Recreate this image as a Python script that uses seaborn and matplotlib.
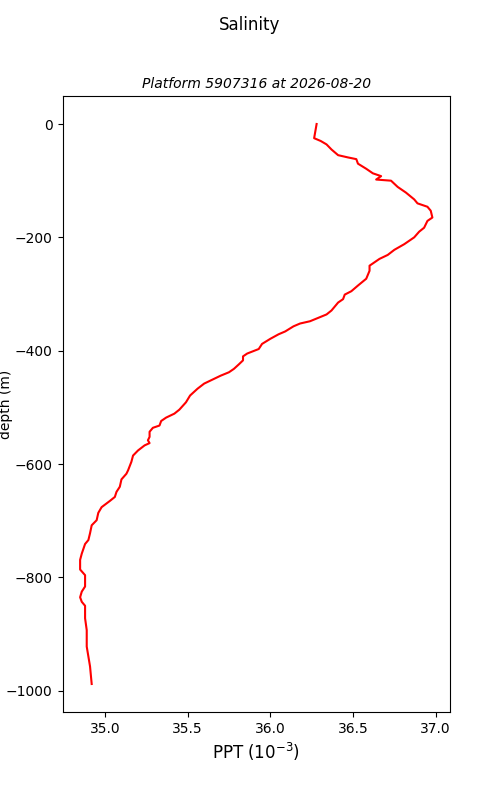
import matplotlib
matplotlib.use('Agg')
import matplotlib.pyplot as plt
import pandas as pd
import seaborn as sns

# salinity profile (depth in m, salinity in PPT)
depth = [0, -25, -30, -36, -45, -55, -59, -62, -70, -79,
         -87, -92, -98, -100, -111, -121, -133, -140, -146, -153,
         -165, -171, -183, -190, -200, -212, -222, -231, -238, -250,
         -259, -273, -285, -295, -301, -309, -315, -322, -329, -336,
         -342, -348, -352, -357, -366, -371, -379, -388, -397, -405,
         -410, -417, -424, -432, -438, -444, -451, -458, -467, -479,
         -491, -504, -511, -518, -524, -532, -536, -543, -552, -558,
         -563, -567, -576, -585, -596, -611, -617, -627, -640, -649,
         -658, -665, -676, -686, -699, -708, -722, -734, -741, -758,
         -769, -786, -796, -816, -825, -835, -843, -850, -872, -893,
         -922, -957, -988]
salinity = [36.28, 36.265, 36.305, 36.34, 36.37, 36.41, 36.47, 36.52, 36.53, 36.58,
            36.62, 36.67, 36.64, 36.73, 36.77, 36.82, 36.87, 36.89, 36.95, 36.97,
            36.98, 36.95, 36.93, 36.90, 36.87, 36.81, 36.75, 36.71, 36.66, 36.60,
            36.60, 36.58, 36.53, 36.49, 36.45, 36.44, 36.41, 36.39, 36.37, 36.34,
            36.29, 36.24, 36.18, 36.14, 36.09, 36.05, 36.00, 35.95, 35.93, 35.86,
            35.835, 35.835, 35.81, 35.78, 35.75, 35.70, 35.65, 35.60, 35.56, 35.515,
            35.49, 35.45, 35.42, 35.37, 35.34, 35.33, 35.29, 35.27, 35.27, 35.26,
            35.27, 35.24, 35.20, 35.17, 35.16, 35.14, 35.13, 35.10, 35.09, 35.07,
            35.06, 35.03, 34.98, 34.96, 34.95, 34.92, 34.91, 34.90, 34.88, 34.86,
            34.85, 34.85, 34.88, 34.88, 34.86, 34.85, 34.86, 34.88, 34.88, 34.89,
            34.89, 34.91, 34.92]

df = pd.DataFrame({'salinity': salinity, 'depth': depth})

fig, ax = plt.subplots(figsize=(5, 8), dpi=100)
sns.lineplot(data=df, x='salinity', y='depth', sort=False, estimator=None,
             color='red', ax=ax)

fig.suptitle('Salinity')
ax.set_title('Platform 5907316 at 2026-08-20', fontsize=10, style='italic')
ax.set_xlabel(r'PPT ($10^{-3}$)', fontsize=12)
ax.set_ylabel('depth (m)')
ax.yaxis.set_label_coords(-0.127, 0.5)

plt.savefig('out.png', dpi=100)
